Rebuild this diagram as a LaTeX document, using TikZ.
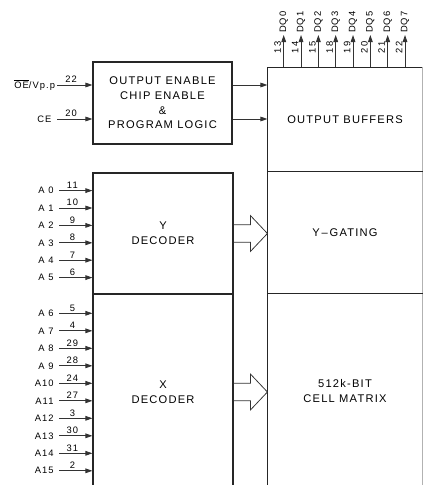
\documentclass[tikz,border=0pt]{standalone}
\usepackage{fontspec}
\setmainfont{Liberation Sans}[LetterSpace=11]
\usetikzlibrary{arrows.meta,calc}

\newcommand{\bigtxt}{\fontsize{9.5}{12.5}\selectfont}
\newcommand{\smalltxt}{\fontsize{8}{9}\selectfont}
\def\px{0.03cm}

\tikzset{
  %% block outlines and the text inside them
  blk/.style={draw=black!85, line width=1pt},
  box/.style={blk, align=center, inner sep=0pt, font=\bigtxt},
  colbox/.style={box, draw=none},
  %% thin signal lines with solid heads
  sig/.style={draw=black!80, line width=0.7pt,
    -{Triangle[length=6pt,width=4pt]}},
  %% open bus arrows between the decoders and the matrix
  hollow/.style={draw=black!80, line width=0.65pt, line join=miter},
  addr/.style={anchor=east, inner xsep=4.5pt, inner ysep=0pt, font=\smalltxt},
  pinno/.style={above, inner sep=1.5pt, font=\smalltxt},
}

%% open arrow from one block to the next
\newcommand{\fatarrow}[2]{%
  \draw[hollow] ($(#1.east)+(0,8.8)$) -- ++(17,0) -- ++(0,9)
    -- (#2.west |- #1.east) -- ($(#1.east)+(17,-17.8)$) -- ++(0,9)
    -- ($(#1.east)+(0,-8.8)$);
}

\begin{document}
\begin{tikzpicture}[x=\px, y=-\px, line cap=butt]

  \useasboundingbox (0,0) rectangle (424,485);
  \clip (0,0) rectangle (424,485);

  %% ── Blocks ───────────────────────────────────────────────────────
  \node[box, minimum width=139*\px, minimum height=82*\px] (ctrl)
        at (162.5,103) {OUTPUT ENABLE\\CHIP ENABLE\\\&\\PROGRAM LOGIC};
  \node[box, minimum width=140*\px, minimum height=121*\px] (ydec)
        at (163,233.5) {Y\\DECODER};
  \node[box, minimum width=140*\px, minimum height=196*\px] (xdec)
        at (163,392) {X\\DECODER};

  \node[colbox, minimum width=154*\px, minimum height=104*\px] (obuf)
        at (345,120) {OUTPUT BUFFERS};
  \node[colbox, minimum width=154*\px, minimum height=122*\px] (ygate)
        at (345,233) {Y\,\textendash\,GATING};
  \node[colbox, minimum width=154*\px, minimum height=194*\px] (cmat)
        at (345,391) {512k-BIT\\CELL MATRIX};

  %% right column outline (its right side has faded out)
  \draw[blk] (cmat.south west) -- (obuf.north west) -- (obuf.north east);
  \draw[blk, draw=black!30] (obuf.north east) -- (cmat.south east);
  \draw[blk] (ygate.north west) -- (ygate.north east);
  \draw[blk] (cmat.north west) -- (cmat.north east);

  %% ── Control inputs ───────────────────────────────────────────────
  \node[addr, inner xsep=1.5pt] (oe) at (57,85)
        {$\overline{\mbox{OE}}$/Vp.p};
  \node[addr] (ce) at (57,119) {CE};
  \draw[sig] (oe.east) -- (oe.east -| ctrl.west) node[pinno, pos=0.4] {22};
  \draw[sig] (ce.east) -- (ce.east -| ctrl.west) node[pinno, pos=0.4] {20};

  \draw[sig] (ctrl.east |- oe.east) -- (obuf.west |- oe.east);
  \draw[sig] (ctrl.east |- ce.east) -- (obuf.west |- ce.east);

  %% ── Data outputs ─────────────────────────────────────────────────
  \foreach \pin [count=\i from 0] in {13,14,15,18,19,20,21,22}{
    \coordinate (dq\i) at ({283.7+17.33*\i},35);
    \draw[sig] (dq\i |- obuf.north) -- (dq\i)
          node[anchor=west, rotate=90, inner sep=1.5pt, font=\smalltxt] {DQ\i};
    \node[rotate=90, inner sep=0pt, font=\smalltxt] (dp\i)
          at ($(dq\i |- obuf.north)+(-6,-20)$) {\pin};
  }

  %% ── Address inputs ───────────────────────────────────────────────
  \foreach \pin [count=\i from 0] in {11,10,9,8,7,6}{
    \node[addr] (a\i) at (59,{190.6+17.4*\i}) {A \i};
    \draw[sig] (a\i.east) -- (a\i.east -| ydec.west)
          node[pinno, pos=0.4] {\pin};
  }
  \foreach \lbl/\pin [count=\i from 6] in
      {A 6/5,A 7/4,A 8/29,A 9/28,A10/24,A11/27,A12/3,A13/30,A14/31,A15/2}{
    \node[addr] (a\i) at (59,{313.3+17.5*(\i-6)}) {\lbl};
    \draw[sig] (a\i.east) -- (a\i.east -| xdec.west)
          node[pinno, pos=0.4] {\pin};
  }

  %% ── Bus arrows ───────────────────────────────────────────────────
  \fatarrow{ydec}{ygate}
  \fatarrow{xdec}{cmat}

\end{tikzpicture}
\end{document}
